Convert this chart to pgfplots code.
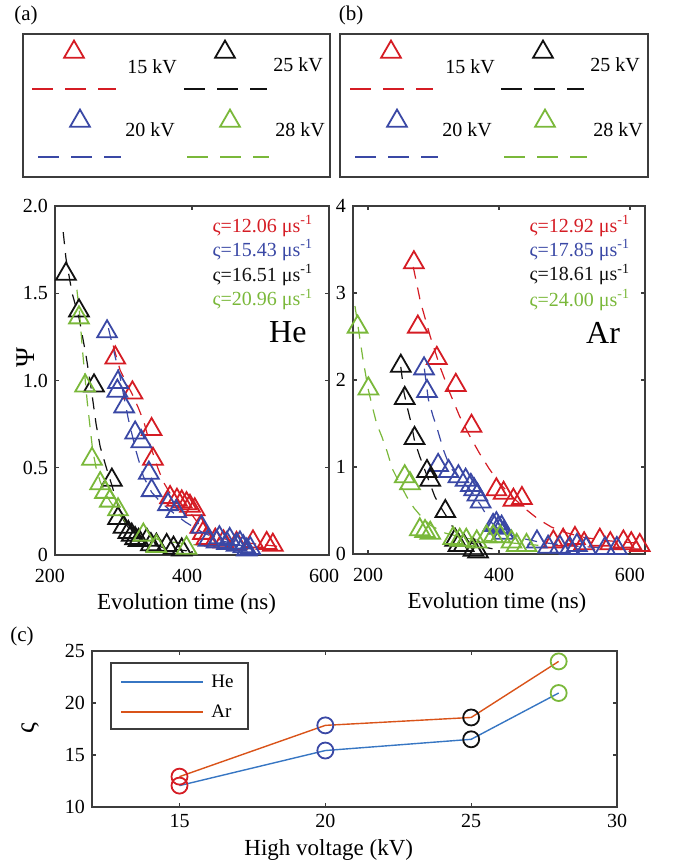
\documentclass[border=0pt]{standalone}
\usepackage{fontspec}
\setmainfont{Liberation Serif}
\usepackage{pgfplots}
\pgfplotsset{compat=1.18}

\definecolor{cRed}{RGB}{213,28,36}
\definecolor{cBlue}{RGB}{58,72,165}
\definecolor{cBlack}{RGB}{17,17,17}
\definecolor{cGreen}{RGB}{122,184,58}
\definecolor{cHe}{RGB}{55,118,195}
\definecolor{cAr}{RGB}{217,83,25}
\definecolor{axgray}{RGB}{60,60,60}

\pgfplotsset{
  panel/.style={
    scale only axis,
    axis line style={axgray, line width=0.6pt},
    tick style={axgray, line width=0.6pt},
    tick align=inside,
    major tick length=2.2pt,
    /pgf/number format/assume math mode=true,
    ticklabel style={font=\fontsize{10}{12}\selectfont},
    label style={font=\fontsize{11.5}{13}\selectfont},
  },
  tri/.style={only marks, mark=triangle, mark size=5.7pt, line width=0.9pt, color=#1, mark options={solid}},
  fit/.style={color=#1, line width=0.6pt, dash pattern=on 6pt off 4.5pt, mark=none},
  legbox/.style={scale only axis, xtick=\empty, ytick=\empty, clip=false,
    axis line style={axgray, line width=0.7pt}},
  legdash/.style={color=#1, line width=0.6pt, dash pattern=on 10.5pt off 6pt, mark=none},
}

\begin{document}
\begin{tikzpicture}
\path[use as bounding box] (0,0) rectangle (336.5pt,-432.5pt);

% panel labels
\node[font=\fontsize{10.5}{12}\selectfont] at (13pt,-7.5pt) {(a)};
\node[font=\fontsize{10.5}{12}\selectfont] at (175.5pt,-7.5pt) {(b)};
\node[font=\fontsize{10.5}{12}\selectfont] at (11pt,-318pt) {(c)};

% ---------- key for (a)
\begin{axis}[legbox, at={(11.5pt,-88.5pt)}, anchor=south west,
  width=153.5pt, height=71.5pt, xmin=23, xmax=330, ymin=-177, ymax=-34]
  \addplot[tri=cRed] coordinates {(74,-52)};
  \addplot[legdash=cRed] coordinates {(32,-89) (116,-89)};
  \addplot[tri=cBlack] coordinates {(225,-52)};
  \addplot[legdash=cBlack] coordinates {(184,-89) (267,-89)};
  \addplot[tri=cBlue] coordinates {(80,-121)};
  \addplot[legdash=cBlue] coordinates {(38,-157) (121,-157)};
  \addplot[tri=cGreen] coordinates {(230,-121)};
  \addplot[legdash=cGreen] coordinates {(187,-157) (269,-157)};
  \node[font=\fontsize{10}{12}\selectfont] at (axis cs:152,-67) {15 kV};
  \node[font=\fontsize{10}{12}\selectfont] at (axis cs:298,-65) {25 kV};
  \node[font=\fontsize{10}{12}\selectfont] at (axis cs:150,-130) {20 kV};
  \node[font=\fontsize{10}{12}\selectfont] at (axis cs:300,-130) {28 kV};
\end{axis}

% ---------- key for (b)
\begin{axis}[legbox, at={(170pt,-88.5pt)}, anchor=south west,
  width=154pt, height=71.5pt, xmin=340, xmax=648, ymin=-177, ymax=-34]
  \addplot[tri=cRed] coordinates {(391,-52)};
  \addplot[legdash=cRed] coordinates {(350,-89) (433,-89)};
  \addplot[tri=cBlack] coordinates {(543,-52)};
  \addplot[legdash=cBlack] coordinates {(501,-89) (584,-89)};
  \addplot[tri=cBlue] coordinates {(397,-121)};
  \addplot[legdash=cBlue] coordinates {(355,-157) (438,-157)};
  \addplot[tri=cGreen] coordinates {(545,-121)};
  \addplot[legdash=cGreen] coordinates {(504,-157) (587,-157)};
  \node[font=\fontsize{10}{12}\selectfont] at (axis cs:470,-67) {15 kV};
  \node[font=\fontsize{10}{12}\selectfont] at (axis cs:615,-65) {25 kV};
  \node[font=\fontsize{10}{12}\selectfont] at (axis cs:467,-130) {20 kV};
  \node[font=\fontsize{10}{12}\selectfont] at (axis cs:618,-130) {28 kV};
\end{axis}

% ---------- He
\begin{axis}[panel, at={(27.5pt,-277.5pt)}, anchor=south west,
  width=137pt, height=174.5pt,
  xmin=200, xmax=600, ymin=0, ymax=2,
  xtick={200,400,600}, ytick={0,0.5,1,1.5,2},
  yticklabels={0,0.5,1.0,1.5,2.0},
  xticklabel style={yshift=-3.5pt, xshift=-2.5pt},
  xlabel={Evolution time (ns)}, ylabel={Ψ},
  xlabel style={at={(axis description cs:0.48,-0.14)}, anchor=center},
  ylabel style={at={(axis description cs:-0.106,0.565)}, anchor=center,
    font=\fontsize{13.5}{15}\selectfont},
]
  % 15 kV
  \addplot[tri=cRed] coordinates {(288,1.13) (313,0.93) (341,0.72) (343,0.55) (368,0.33) (378,0.315) (385,0.305) (392,0.295) (397,0.28) (404,0.26) (412,0.16) (416,0.125) (421,0.095) (434,0.086) (446,0.076) (465,0.067) (489,0.076) (509,0.067) (518,0.057)};
  \addplot[fit=cRed] coordinates {(285,1.20) (295,1.06) (305,0.98) (313,0.92) (322,0.84) (330,0.76) (339,0.63) (350,0.50) (358,0.42) (370,0.34) (385,0.29) (400,0.23) (415,0.15) (430,0.11) (460,0.08) (500,0.06) (525,0.05)};
  % 20 kV
  \addplot[tri=cBlue] coordinates {(276,1.28) (292,0.99) (291,0.94) (301,0.85) (317,0.70) (326,0.65) (337,0.47) (341,0.37) (365,0.29) (377,0.25) (414,0.16) (424,0.086) (436,0.076) (440,0.10) (451,0.067) (455,0.09) (465,0.057) (470,0.07) (475,0.048) (480,0.03) (485,0.038)};
  \addplot[fit=cBlue] coordinates {(278,1.30) (287,1.15) (295,1.02) (301,0.90) (307,0.78) (318,0.60) (329,0.45) (341,0.36) (355,0.30) (370,0.25) (390,0.19) (415,0.13) (445,0.08) (475,0.05) (500,0.04)};
  % 25 kV
  \addplot[tri=cBlack] coordinates {(216,1.61) (235,1.40) (257,0.97) (283,0.43) (292,0.21) (300,0.16) (307,0.13) (312,0.115) (317,0.095) (322,0.085) (334,0.086) (340,0.06) (348,0.057) (363,0.055) (373,0.04) (385,0.03)};
  \addplot[fit=cBlack] coordinates {(212,1.85) (216,1.70) (225,1.50) (235,1.36) (245,1.15) (253,0.95) (260,0.75) (266,0.62) (275,0.50) (283,0.40) (292,0.28) (300,0.20) (310,0.14) (320,0.10) (335,0.07) (360,0.04) (400,0.02)};
  % 28 kV
  \addplot[tri=cGreen] coordinates {(235,1.36) (244,0.97) (254,0.55) (266,0.41) (273,0.36) (280,0.31) (292,0.26) (329,0.115) (348,0.05) (392,0.04)};
  \addplot[fit=cGreen] coordinates {(232,1.52) (236,1.38) (240,1.18) (243,1.05) (247,0.88) (251,0.74) (255,0.60) (260,0.50) (266,0.42) (273,0.36) (280,0.31) (292,0.24) (310,0.16) (330,0.11) (360,0.08) (400,0.06) (430,0.05)};

  \node[anchor=base east, text=cRed, font=\fontsize{10}{12}\selectfont] at (axis cs:587,1.851) {ς=12.06 μs\textsuperscript{-1}};
  \node[anchor=base east, text=cBlue, font=\fontsize{10}{12}\selectfont] at (axis cs:587,1.713) {ς=15.43 μs\textsuperscript{-1}};
  \node[anchor=base east, text=cBlack, font=\fontsize{10}{12}\selectfont] at (axis cs:587,1.570) {ς=16.51 μs\textsuperscript{-1}};
  \node[anchor=base east, text=cGreen, font=\fontsize{10}{12}\selectfont] at (axis cs:587,1.427) {ς=20.96 μs\textsuperscript{-1}};
  \node[anchor=base, font=\fontsize{16}{18}\selectfont] at (axis cs:540,1.215) {He};
\end{axis}

% ---------- Ar
\begin{axis}[panel, at={(176.5pt,-277pt)}, anchor=south west,
  width=146pt, height=174pt,
  xmin=177, xmax=623, ymin=0, ymax=4,
  xtick={200,400,600}, ytick={0,1,2,3,4},
  xticklabel style={yshift=-3.5pt},
  xlabel={Evolution time (ns)},
  xlabel style={at={(axis description cs:0.493,-0.14)}, anchor=center},
]
  % 15 kV
  \addplot[tri=cRed] coordinates {(270,3.35) (276,2.61) (305,2.25) (334,1.94) (358,1.47) (396,0.74) (407,0.70) (422,0.62) (435,0.64) (483,0.14) (498,0.16) (516,0.18) (530,0.12) (554,0.16) (570,0.12) (590,0.14) (602,0.12) (615,0.10) (625,0.08)};
  \addplot[fit=cRed] coordinates {(269,3.30) (280,2.90) (295,2.50) (310,2.15) (325,1.85) (340,1.58) (355,1.36) (370,1.16) (385,0.98) (400,0.82) (420,0.66) (440,0.52) (460,0.40) (480,0.31) (500,0.25) (530,0.19) (570,0.15) (620,0.12)};
  % 20 kV
  \addplot[tri=cBlue] coordinates {(285.5,2.13) (290,1.87) (307,1.02) (323,0.95) (338,0.89) (349,0.85) (357,0.79) (362,0.74) (367,0.68) (372,0.60) (391,0.33) (396,0.35) (399,0.30) (404,0.31) (407,0.24) (458,0.14) (475,0.08) (493,0.08) (508,0.065) (519,0.10) (533,0.065) (562,0.065) (580,0.065)};
  \addplot[fit=cBlue] coordinates {(286,2.13) (292,1.78) (299,1.59) (306,1.43) (315,1.20) (325,1.00) (340,0.87) (358,0.72) (372,0.56) (386,0.38) (400,0.28) (412,0.23) (435,0.18) (460,0.14) (500,0.10) (560,0.07) (620,0.05)};
  % 25 kV
  \addplot[tri=cBlack] coordinates {(250,2.16) (256,1.79) (271,1.33) (290,0.95) (295,0.85) (318,0.49) (333,0.16) (338,0.10) (346,0.10) (361,0.046) (368,0.026)};
  \addplot[fit=cBlack] coordinates {(250,2.15) (255,1.85) (261,1.65) (266,1.50) (271,1.30) (279,1.12) (290,0.90) (302,0.66) (310,0.55) (320,0.43) (330,0.30) (345,0.18) (365,0.10) (390,0.06)};
  % 28 kV
  \addplot[tri=cGreen] coordinates {(184,2.61) (200.5,1.90) (256,0.89) (264,0.81) (279,0.28) (287,0.26) (295,0.24) (330,0.18) (340,0.16) (350,0.16) (366,0.14) (381,0.20) (391,0.20) (402,0.20) (419,0.14) (427,0.10) (442,0.10)};
  \addplot[fit=cGreen] coordinates {(180,2.85) (186,2.55) (192,2.25) (200,1.90) (206,1.71) (213,1.50) (221,1.35) (229,1.18) (237,0.98) (245,0.86) (259,0.66) (270,0.53) (279,0.45) (295,0.33) (318,0.24) (350,0.18) (400,0.14) (460,0.10)};

  \node[anchor=base east, text=cRed, font=\fontsize{10}{12}\selectfont] at (axis cs:611,3.70) {ς=12.92 μs\textsuperscript{-1}};
  \node[anchor=base east, text=cBlue, font=\fontsize{10}{12}\selectfont] at (axis cs:611,3.425) {ς=17.85 μs\textsuperscript{-1}};
  \node[anchor=base east, text=cBlack, font=\fontsize{10}{12}\selectfont] at (axis cs:611,3.138) {ς=18.61 μs\textsuperscript{-1}};
  \node[anchor=base east, text=cGreen, font=\fontsize{10}{12}\selectfont] at (axis cs:611,2.85) {ς=24.00 μs\textsuperscript{-1}};
  \node[anchor=base, font=\fontsize{16}{18}\selectfont] at (axis cs:559,2.425) {Ar};
\end{axis}

% ---------- (c) decay rate versus voltage
\begin{axis}[panel, at={(46pt,-403.5pt)}, anchor=south west,
  width=262.5pt, height=78pt,
  xmin=12, xmax=30, ymin=10, ymax=25,
  xtick={15,20,25,30}, ytick={10,15,20,25},
  xlabel={High voltage (kV)}, ylabel={ς},
  xlabel style={at={(axis description cs:0.451,-0.276)}, anchor=center},
  ylabel style={at={(axis description cs:-0.118,0.506)}, anchor=center,
    font=\fontsize{13.5}{15}\selectfont},
]
  \addplot[cHe, line width=0.7pt, mark=none] coordinates {(15,12.06) (20,15.43) (25,16.51) (28,20.96)};
  \addplot[cAr, line width=0.7pt, mark=none] coordinates {(15,12.92) (20,17.85) (25,18.61) (28,24.00)};
  \addplot[only marks, mark=o, mark size=4pt, line width=0.9pt, cRed] coordinates {(15,12.06) (15,12.92)};
  \addplot[only marks, mark=o, mark size=4pt, line width=0.9pt, cBlue] coordinates {(20,15.43) (20,17.85)};
  \addplot[only marks, mark=o, mark size=4pt, line width=0.9pt, cBlack] coordinates {(25,16.51) (25,18.61)};
  \addplot[only marks, mark=o, mark size=4pt, line width=0.9pt, cGreen] coordinates {(28,20.96) (28,24.00)};
\end{axis}

% ---------- key for (c)
\begin{axis}[legbox, at={(55.5pt,-364.5pt)}, anchor=south west,
  width=68.5pt, height=33pt, xmin=111, xmax=248, ymin=-729, ymax=-663,
  axis background/.style={fill=white}, axis line style={axgray, line width=0.8pt}]
  \addplot[cHe, line width=0.6pt, mark=none] coordinates {(121,-682) (203,-682)};
  \addplot[cAr, line width=0.6pt, mark=none] coordinates {(121,-712) (203,-712)};
  \node[anchor=base west, inner sep=0pt, font=\fontsize{9.5}{11}\selectfont] at (axis cs:211,-687) {He};
  \node[anchor=base west, inner sep=0pt, font=\fontsize{9.5}{11}\selectfont] at (axis cs:211,-717) {Ar};
\end{axis}
\end{tikzpicture}
\end{document}
